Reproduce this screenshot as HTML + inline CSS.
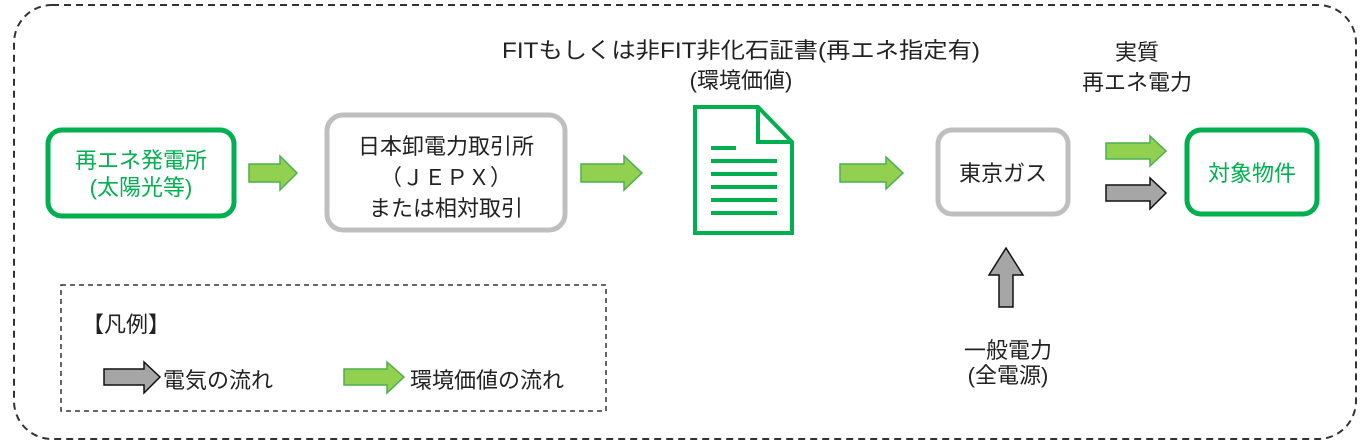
<!DOCTYPE html>
<html><head><meta charset="utf-8"><style>
html,body{margin:0;padding:0;background:#fff;}
svg{display:block;}
text{font-family:"Liberation Sans","Noto Sans CJK JP",sans-serif;font-size:22px;fill:#222;}
.g{fill:#00b050;}
</style></head><body>
<svg width="1369" height="448" viewBox="0 0 1369 448" xmlns="http://www.w3.org/2000/svg">
<rect x="14" y="5" width="1342" height="434" rx="38" fill="none" stroke="#333" stroke-width="2" stroke-dasharray="7,5"/>
<rect x="48" y="130" width="186" height="86" rx="14" fill="#fff" stroke="#00b050" stroke-width="5"/>
<text class="g" x="141" y="168" text-anchor="middle">再エネ発電所</text>
<text class="g" x="141" y="195" text-anchor="middle">(太陽光等)</text>
<rect x="327" y="115" width="238" height="115" rx="16" fill="#fff" stroke="#bfbfbf" stroke-width="5"/>
<text x="446" y="154" text-anchor="middle">日本卸電力取引所</text>
<text x="446" y="185" text-anchor="middle">（ＪＥＰＸ）</text>
<text x="446" y="216" text-anchor="middle">または相対取引</text>
<rect x="938" y="130" width="130" height="84" rx="14" fill="#fff" stroke="#bfbfbf" stroke-width="5"/>
<text x="1003" y="181" text-anchor="middle">東京ガス</text>
<rect x="1187" y="130" width="130" height="84" rx="14" fill="#fff" stroke="#00b050" stroke-width="5"/>
<text class="g" x="1252" y="181" text-anchor="middle">対象物件</text>
<path d="M695 107 H758 L792 142 V233 H695 Z" fill="#fff" stroke="#00b050" stroke-width="4"/>
<path d="M758 107 V142 H792" fill="none" stroke="#00b050" stroke-width="4"/>
<g stroke="#00b050" stroke-width="4">
<line x1="711" y1="148" x2="736" y2="148"/>
<line x1="711" y1="161" x2="777" y2="161"/>
<line x1="711" y1="174" x2="777" y2="174"/>
<line x1="711" y1="187" x2="777" y2="187"/>
<line x1="711" y1="200" x2="777" y2="200"/>
<line x1="711" y1="213" x2="777" y2="213"/>
</g>
<text x="741" y="58" text-anchor="middle" textLength="478" lengthAdjust="spacingAndGlyphs">FITもしくは非FIT非化石証書(再エネ指定有)</text>
<text x="741" y="88" text-anchor="middle">(環境価値)</text>
<text x="1137" y="60" text-anchor="middle">実質</text>
<text x="1137" y="90" text-anchor="middle">再エネ電力</text>
<g fill="#92d050" stroke="#4caf50" stroke-width="1.5">
<path d="M249 164 H280 V156 L297 173 L280 190 V182 H249 Z"/>
<path d="M581 164 H624 V156 L642 173 L624 190 V182 H581 Z"/>
<path d="M840 164 H886 V157 L903 173 L886 189 V182 H840 Z"/>
<path d="M1106 143 H1150 V136 L1166 151 L1150 166 V159 H1106 Z"/>
<path d="M344 369 H387 V362 L404 377 L387 393 V385 H344 Z"/>
</g>
<g fill="#a6a6a6" stroke="#111" stroke-width="1.5">
<path d="M1106 185 H1150 V178 L1166 193 L1150 209 V201 H1106 Z"/>
<path d="M104 369 H144 V362 L160 377 L144 393 V385 H104 Z"/>
<path d="M999 307 V275 H989 L1006 248 L1023 275 H1013 V307 Z"/>
</g>
<text x="1008" y="358" text-anchor="middle">一般電力</text>
<text x="1008" y="383" text-anchor="middle">(全電源)</text>
<rect x="61" y="285" width="545" height="126" fill="none" stroke="#333" stroke-width="1.5" stroke-dasharray="5,4"/>
<text x="82" y="332">【凡例】</text>
<text x="163" y="388">電気の流れ</text>
<text x="410" y="388">環境価値の流れ</text>
</svg>
</body></html>
